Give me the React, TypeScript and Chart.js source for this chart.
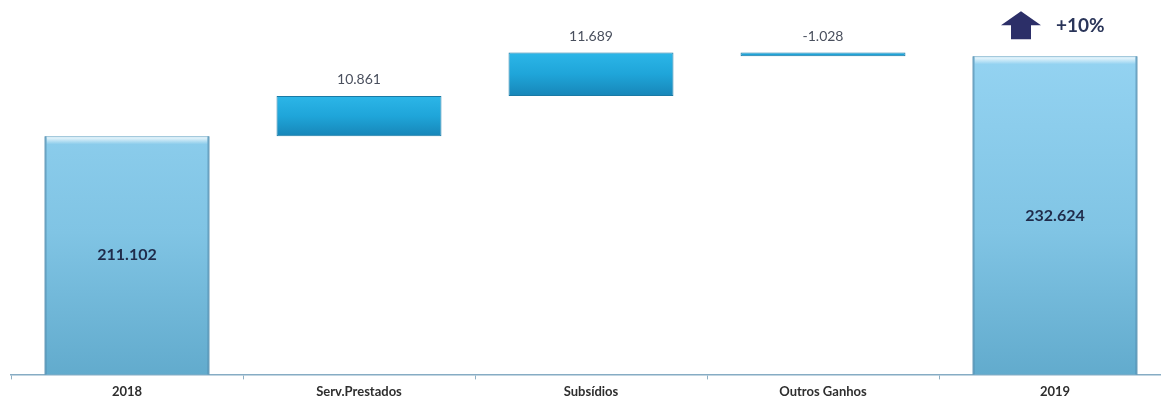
import React, { useEffect, useRef } from "react";
import { Chart, registerables } from "chart.js";

Chart.register(...registerables);

const categories = ["2018", "Serv.Prestados", "Subsídios", "Outros Ganhos", "2019"];
const startTotal = 211.102;
const changes = [10.861, 11.689, -1.028];
const endTotal = 232.624;
const valueLabels = ["211.102", "10.861", "11.689", "-1.028", "232.624"];
const growthLabel = "+10%";
const Y_MIN = 147;
const Y_MAX = 242.4;

function buildData() {
  const data: (number | [number, number])[] = [startTotal];
  let cum = startTotal;
  for (const c of changes) {
    data.push([cum, cum + c]);
    cum += c;
  }
  data.push(endTotal);
  return data;
}

const FONT = "Lato, 'Open Sans', 'DejaVu Sans', sans-serif";

function barFill(ctx: any) {
  const chart = ctx.chart;
  const area = chart.chartArea;
  if (!area) return "#8fd0ee";
  const isTotal = ctx.dataIndex === 0 || ctx.dataIndex === categories.length - 1;
  const c = chart.ctx as CanvasRenderingContext2D;
  if (isTotal) {
    const g = c.createLinearGradient(0, area.top, 0, area.bottom);
    g.addColorStop(0, "#98d6f4");
    g.addColorStop(0.6, "#80c4e4");
    g.addColorStop(1, "#62abcd");
    return g;
  }
  const p = ctx.parsed;
  const ys = chart.scales.y;
  if (!p || !p._custom) return "#1ea8dc";
  const top = ys.getPixelForValue(Math.max(p._custom.start, p._custom.end));
  const bot = ys.getPixelForValue(Math.min(p._custom.start, p._custom.end));
  const g = c.createLinearGradient(0, top, 0, Math.max(bot, top + 1));
  g.addColorStop(0, "#2cb6e8");
  g.addColorStop(0.5, "#1fa5d9");
  g.addColorStop(1, "#1786b8");
  return g;
}

const labelPlugin = {
  id: "waterfallLabels",
  afterDatasetsDraw(chart: any) {
    const c = chart.ctx as CanvasRenderingContext2D;
    const area = chart.chartArea;
    const meta = chart.getDatasetMeta(0);
    const n = meta.data.length;
    c.save();
    meta.data.forEach((bar: any, i: number) => {
      const { x, y, base, width } = bar.getProps(["x", "y", "base", "width"], true);
      const top = Math.max(Math.min(y, base), area.top);
      const bottom = Math.min(Math.max(y, base), area.bottom);
      const isTotal = i === 0 || i === n - 1;
      if (isTotal) {
        const hg = c.createLinearGradient(0, top, 0, top + 8);
        hg.addColorStop(0, "rgba(255,255,255,0.95)");
        hg.addColorStop(1, "rgba(255,255,255,0)");
        c.fillStyle = hg;
        c.fillRect(x - width / 2 + 2, top + 1, width - 4, 8);
        c.fillStyle = "rgba(70,130,165,0.55)";
        c.fillRect(x - width / 2, top, 2, bottom - top);
        c.fillRect(x + width / 2 - 2, top, 2, bottom - top);
        c.fillStyle = "#1f2b4a";
        c.font = `bold 16px ${FONT}`;
        c.textAlign = "center";
        c.textBaseline = "middle";
        c.fillText(valueLabels[i], x, (top + bottom) / 2);
      } else {
        c.fillStyle = "#4a505e";
        c.font = `14px ${FONT}`;
        c.textAlign = "center";
        c.textBaseline = "middle";
        c.fillText(valueLabels[i], x, top - 16);
      }
    });
    const last = meta.data[n - 1];
    if (last) {
      const { x, y } = last.getProps(["x", "y"], true);
      const cx = x - 34;
      const cy = y - 31;
      c.fillStyle = "#2c2f68";
      c.beginPath();
      c.moveTo(cx, cy - 14);
      c.lineTo(cx + 20, cy);
      c.lineTo(cx + 10, cy);
      c.lineTo(cx + 10, cy + 14);
      c.lineTo(cx - 10, cy + 14);
      c.lineTo(cx - 10, cy);
      c.lineTo(cx - 20, cy);
      c.closePath();
      c.fill();
      c.fillStyle = "#2a3559";
      c.font = `bold 19px ${FONT}`;
      c.textAlign = "left";
      c.textBaseline = "middle";
      c.fillText(growthLabel, x + 1, cy + 1);
    }
    c.restore();
  },
};

export default function App() {
  const ref = useRef<HTMLCanvasElement | null>(null);
  useEffect(() => {
    if (!ref.current) return;
    const chart = new Chart(ref.current, {
      type: "bar",
      data: {
        labels: categories,
        datasets: [
          {
            data: buildData() as any,
            backgroundColor: barFill as any,
            borderColor: (ctx: any) =>
              ctx.dataIndex === 0 || ctx.dataIndex === categories.length - 1 ? "#5e9fc2" : "#1a7aa5",
            borderWidth: 1,
            borderSkipped: false,
            barPercentage: 0.711,
            categoryPercentage: 1,
          },
        ],
      },
      options: {
        responsive: false,
        animation: false,
        layout: { padding: { left: 11, right: 4, top: 20, bottom: 0 } },
        plugins: { legend: { display: false }, tooltip: { enabled: false } },
        scales: {
          y: { display: false, min: Y_MIN, max: Y_MAX },
          x: {
            grid: {
              display: true,
              drawOnChartArea: false,
              drawTicks: true,
              tickLength: 5,
              color: "#8fb0c4",
            },
            border: { display: true, dash: [4, 4], color: "#86acc4", width: 1.5 },
            ticks: {
              color: "#2e2e2e",
              padding: 5,
              font: { family: FONT, size: 13, weight: "bold" },
            },
          },
        },
      },
      plugins: [labelPlugin],
    });
    return () => chart.destroy();
  }, []);
  return (
    <div
      style={{
        position: "fixed",
        left: 0,
        top: 0,
        width: 1161,
        height: 405,
        overflow: "hidden",
        background: "#ffffff",
      }}
    >
      <canvas ref={ref} width={1175} height={405} style={{ display: "block" }} />
    </div>
  );
}
